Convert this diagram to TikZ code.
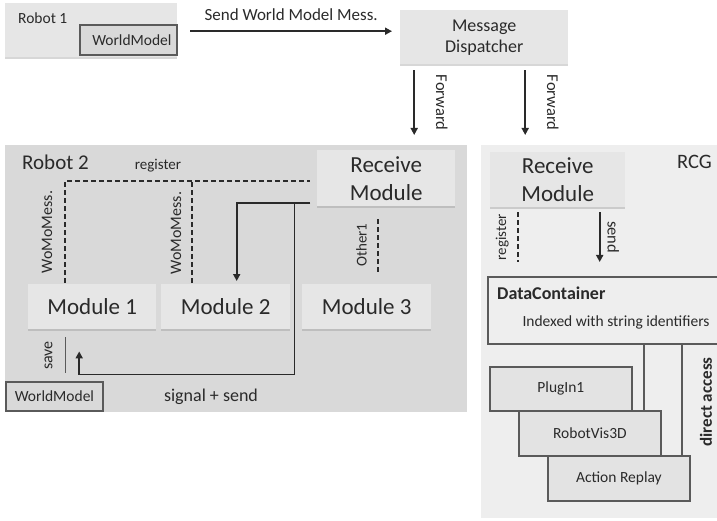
\documentclass[tikz,border=0pt]{standalone}
\usepackage{fontspec}
\setmainfont{Carlito}
\usetikzlibrary{arrows.meta,shadows}

\definecolor{boxgray}{HTML}{E6E6E6}
\definecolor{robotgray}{HTML}{D9D9D9}
\definecolor{rcggray}{HTML}{EEEEEE}
\definecolor{pluggray}{HTML}{E3E3E3}
\definecolor{rimgray}{HTML}{5A5A5A}
\definecolor{inkgray}{HTML}{2A2A2A}

\tikzset{
	txt/.style={text=inkgray,inner sep=0pt,font=\fontsize{#1}{#1}\selectfont},
	area/.style={anchor=north west,inner sep=0pt,fill=#1},
	softbox/.style={anchor=north west,fill=boxgray,text=inkgray,align=center,
		drop shadow={shadow xshift=0pt,shadow yshift=-1.5pt,opacity=0.35,fill=black!45}},
	rimbox/.style={anchor=north west,draw=rimgray,line width=1.8pt,text=inkgray},
	arr/.style={draw=inkgray,line width=1.8pt,-{Triangle[length=7pt,width=7pt]}},
	dashline/.style={draw=inkgray,line width=1.8pt,dash pattern=on 5pt off 3pt},
	wire/.style={draw=rimgray,line width=1.4pt}
}

\begin{document}
\begin{tikzpicture}[x=1pt,y=-1pt]
	\clip (0,0) rectangle (717,521);

	% Robot 1 and the dispatcher
	\node[area=boxgray,minimum width=172pt,minimum height=54pt,
		drop shadow={shadow xshift=0pt,shadow yshift=-1.5pt,opacity=0.35,fill=black!45}]
		(robotone) at (5,3) {};
	\node[txt=15.5,anchor=west] (robotonelabel) at (18,18) {Robot 1};
	\node[rimbox,fill=robotgray,minimum width=97pt,minimum height=30pt,
		font=\fontsize{15.5}{15.5}\selectfont] (wmone) at (79,24) {\hspace{7pt}WorldModel};
	\node[softbox,minimum width=168pt,minimum height=54pt,
		font=\fontsize{18}{21}\selectfont] (dispatcher) at (400,10) {Message\\Dispatcher};
	\draw[arr] ([xshift=13pt,yshift=-1pt]robotone.east)
		-- node[txt=17,above=10pt] {Send World Model Mess.}
		([xshift=-8pt,yshift=-1pt]dispatcher.west |- robotone.east);

	% the two receiving sides
	\node[area=robotgray,minimum width=462pt,minimum height=267pt] (robottwo) at (5,145) {};
	\node[area=rcggray,minimum width=240pt,minimum height=373pt] (rcg) at (481,145) {};
	\draw[arr] ([xshift=-70pt,yshift=-6pt]dispatcher.south)
		-- node[txt=16.5,rotate=-90,above=21pt] {Forward}
		([xshift=-70pt,yshift=10pt]dispatcher.south |- robottwo.north);
	\draw[arr] ([xshift=41pt,yshift=-6pt]dispatcher.south)
		-- node[txt=16.5,rotate=-90,above=21pt] {Forward}
		([xshift=41pt,yshift=10pt]dispatcher.south |- robottwo.north);

	% Robot 2
	\node[txt=21,anchor=west] (robottwolabel) at (22,162) {Robot 2};
	\node[softbox,minimum width=138pt,minimum height=56pt,
		font=\fontsize{23}{28}\selectfont] (recvtwo) at (317,150) {Receive\\Module};
	\node[softbox,minimum width=128pt,minimum height=45pt,
		font=\fontsize{23}{23}\selectfont] (modone) at (28,284) {Module 1};
	\node[softbox,minimum width=129pt,minimum height=45pt,
		font=\fontsize{23}{23}\selectfont] (modtwo) at (161,284) {Module 2};
	\node[softbox,minimum width=129pt,minimum height=45pt,
		font=\fontsize{23}{23}\selectfont] (modthree) at (302,284) {Module 3};
	\node[rimbox,fill=robotgray,minimum width=97pt,minimum height=29pt,inner sep=0pt,
		font=\fontsize{15.5}{15.5}\selectfont] (wmtwo) at (5,381) {WorldModel};

	\draw[dashline] ([xshift=-27pt,yshift=1pt]modone.north)
		|- ([xshift=-7pt,yshift=-3pt]recvtwo.west);
	\draw[dashline] ([xshift=-34pt,yshift=1pt]modtwo.north)
		-- ([xshift=-34pt,yshift=-3pt]modtwo.north |- recvtwo.west);
	\node[txt=15] (register) at (158,166) {register};
	\node[txt=16,rotate=90] (womoone) at (47,232) {WoMoMess.};
	\node[txt=16,rotate=90] (womotwo) at (176,233) {WoMoMess.};
	\draw[dashline] ([xshift=11pt,yshift=12pt]modthree.north)
		-- node[txt=15,rotate=90,above=10pt] {Other1}
		([xshift=11pt,yshift=-12pt]modthree.north |- recvtwo.south);

	\coordinate (sigstart) at ([xshift=-7pt,yshift=3pt]recvtwo.south west);
	\draw[arr] (sigstart) -| ([xshift=11pt,yshift=3pt]modtwo.north);
	\draw[arr] (sigstart) -| ([xshift=4pt,yshift=-45pt]modtwo.south east)
		-| ([xshift=-13pt,yshift=-22pt]modone.south);
	\draw[wire] ([xshift=-27pt,yshift=-8pt]modone.south)
		-- node[txt=16,rotate=90,above=12pt] {save} ([xshift=-27pt,yshift=-44pt]modone.south);
	\node[txt=18] (signal) at (211,397) {signal + send};

	% RCG
	\node[txt=20.5,anchor=east] (rcglabel) at (712,162) {RCG};
	\node[softbox,minimum width=135pt,minimum height=55pt,
		font=\fontsize{23}{28}\selectfont] (recvrcg) at (490,152) {Receive\\Module};
	\node[rimbox,fill=rcggray,minimum width=236pt,minimum height=67pt] (datacont) at (487,276) {};
	\node[txt=18,anchor=west,font=\bfseries\fontsize{18}{18}\selectfont] (dclabel) at (497,293) {DataContainer};
	\node[txt=15.5] (dcindex) at (616,322) {Indexed with string identifiers};

	\draw[dashline] ([xshift=-40pt,yshift=-5pt]recvrcg.south)
		-- node[txt=15,rotate=90,above=8pt] {register}
		([xshift=-40pt,yshift=14pt]recvrcg.south |- datacont.north);
	\draw[arr] ([xshift=42pt,yshift=-5pt]recvrcg.south)
		-- node[txt=16.5,rotate=-90,above=7pt] {send}
		([xshift=42pt,yshift=14pt]recvrcg.south |- datacont.north);

	\node[rimbox,fill=pluggray,minimum width=142pt,minimum height=44pt,
		font=\fontsize{15.5}{15.5}\selectfont] (plugin) at (489,366) {PlugIn1\hspace{26pt}};
	\node[rimbox,fill=pluggray,minimum width=142pt,minimum height=45pt,
		font=\fontsize{15.5}{15.5}\selectfont] (robotvis) at (518,410) {RobotVis3D\hspace{24pt}};
	\node[rimbox,fill=pluggray,minimum width=142pt,minimum height=45pt,
		font=\fontsize{15.5}{15.5}\selectfont] (replay) at (547,455) {Action Replay\hspace{22pt}};
	\draw[wire,line width=1.8pt] (datacont.south -| 644,0) -- (robotvis.north -| 644,0);
	\draw[wire,line width=1.8pt] (datacont.south -| 682,0) -- (replay.north -| 682,0);
	\node[txt=17,rotate=90,font=\bfseries\fontsize{17}{17}\selectfont] (direct) at (706,402) {direct access};
\end{tikzpicture}
\end{document}
